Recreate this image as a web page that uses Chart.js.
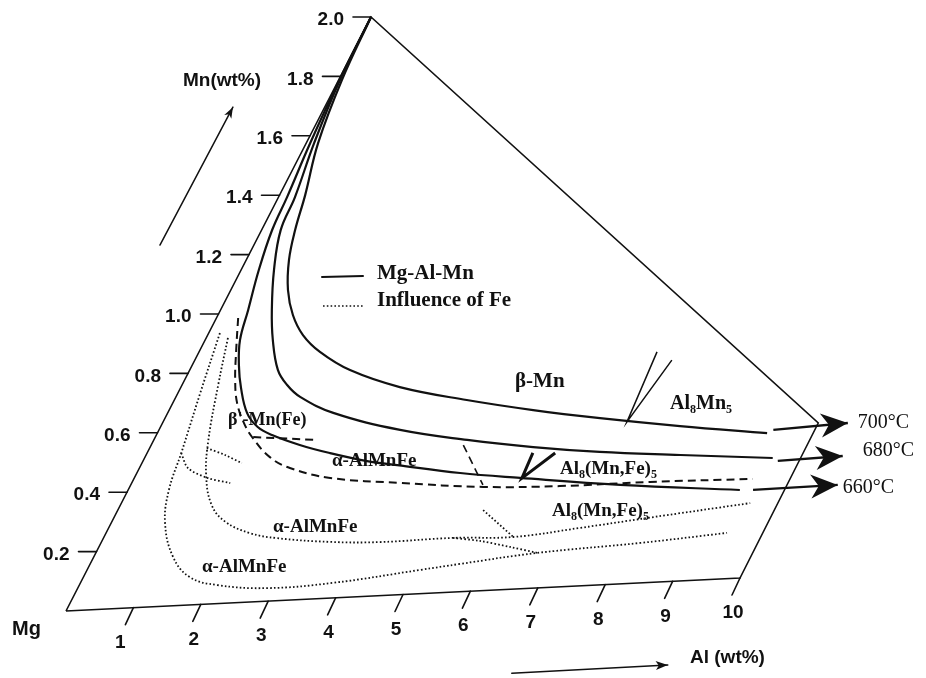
<!DOCTYPE html>
<html>
<head>
<meta charset="utf-8">
<script src="https://cdn.jsdelivr.net/npm/chart.js@4.4.1/dist/chart.umd.min.js"></script>
<style>
  html, body { margin: 0; padding: 0; background: #fff; }
  #wrap { width: 926px; height: 678px; position: relative; }
</style>
</head>
<body>
<div id="wrap"><canvas id="diagram"></canvas></div>
<script>
// axis ticks (Al wt% along the bottom edge, Mn wt% up the left edge)
const alTicks = [1, 2, 3, 4, 5, 6, 7, 8, 9, 10];
const mnTicks = [0.2, 0.4, 0.6, 0.8, 1.0, 1.2, 1.4, 1.6, 1.8, 2.0];
const mnTickLabels = ["0.2", "0.4", "0.6", "0.8", "1.0", "1.2", "1.4", "1.6", "1.8", "2.0"];

// outline of the section
const frameAl = [0, 0, 9.98, 10, 0];
const frameMn = [0, 2, 0.522, 0, 0];

// Mg-Al-Mn liquidus lines
const al700 = [0, 0.05, 0.18, 0.39, 0.51, 0.65, 0.87, 1.14, 1.45, 1.84, 2.44, 3.33, 4.45, 5.54, 6.62, 7.90, 9.28];
const mn700 = [2.0, 1.787, 1.574, 1.396, 1.277, 1.175, 1.071, 0.984, 0.913, 0.852, 0.784, 0.717, 0.661, 0.615, 0.576, 0.535, 0.496];
const al680 = [0, 0.02, 0.12, 0.25, 0.29, 0.50, 0.78, 1.03, 1.34, 1.60, 1.89, 2.52, 3.67, 4.77, 5.83, 6.88, 8.13, 9.56];
const mn680 = [2.0, 1.787, 1.574, 1.391, 1.280, 1.143, 1.005, 0.901, 0.797, 0.743, 0.700, 0.639, 0.569, 0.523, 0.487, 0.459, 0.435, 0.409];
const al660 = [0, 0.01, 0.06, 0.13, 0.16, 0.27, 0.42, 0.53, 0.71, 0.92, 1.21, 1.48, 1.76, 2.26, 2.78, 3.41, 3.90, 4.92, 5.87, 7.45, 9.31];
const mn660 = [2.0, 1.787, 1.575, 1.393, 1.281, 1.145, 1.009, 0.907, 0.820, 0.741, 0.653, 0.603, 0.573, 0.534, 0.501, 0.467, 0.448, 0.410, 0.383, 0.342, 0.304];

// influence of Fe: dashed boundary
const alFeDash = [0.33, 0.55, 0.77, 0.98, 1.24, 1.49, 1.90, 2.29, 2.98, 4.08, 5.38, 6.54, 7.88, 9.42];
const mnFeDash = [0.983, 0.873, 0.769, 0.689, 0.619, 0.566, 0.497, 0.456, 0.415, 0.386, 0.358, 0.348, 0.347, 0.340];
const alFeDashShort = [1.49, 2.50];
const mnFeDashShort = [0.569, 0.548];
const alFeDashLink = [4.75, 5.36];
const mnFeDashLink = [0.506, 0.365];

// influence of Fe: dotted boundaries
const alDot1 = [0.17, 0.34, 0.52, 0.62, 0.82, 1.21, 1.62, 2.10, 2.88, 3.84, 5.07, 5.63, 6.72, 8.21, 9.45];
const mnDot1 = [0.934, 0.730, 0.526, 0.401, 0.287, 0.168, 0.096, 0.064, 0.045, 0.052, 0.082, 0.096, 0.121, 0.138, 0.158];
const alDot2 = [0.33, 0.55, 0.83, 1.07, 1.39, 1.73, 2.19, 2.64, 3.48, 4.24, 5.32, 6.23, 7.17, 8.12, 9.57];
const mnDot2 = [0.916, 0.755, 0.567, 0.446, 0.341, 0.281, 0.238, 0.216, 0.194, 0.185, 0.187, 0.180, 0.200, 0.223, 0.257];
const alDot3 = [5.32, 5.75, 6.26, 6.72];
const mnDot3 = [0.187, 0.172, 0.146, 0.121];
const alDot4 = [5.56, 6.23];
const mnDot4 = [0.278, 0.180];
const alDot5 = [0.52, 0.74, 1.11, 1.50];
const mnDot5 = [0.526, 0.473, 0.436, 0.414];
const alDot6 = [0.87, 1.20, 1.52];
const mnDot6 = [0.539, 0.512, 0.481];

// phase-field markers
const alMark660 = [5.87, 5.90, 6.21];
const mnMark660 = [0.467, 0.382, 0.463];
const alMark700 = [6.97, 7.06, 7.26];
const mnMark700 = [0.795, 0.558, 0.764];

// isotherm arrows
const arrowLabels = ["700\u00b0C", "680\u00b0C", "660\u00b0C"];
const arrowAl = [[9.35, 10.43], [9.66, 10.61], [9.51, 10.76]];
const arrowMn = [[0.506, 0.517], [0.398, 0.404], [0.302, 0.305]];

// oblique drawing of the composition plane
function proj(al, mn) {
  return { x: 66 + 67.4 * al + 152.5 * mn, y: 611 - 3.3 * al - 297 * mn };
}
function pts(al, mn) {
  return al.map((a, i) => proj(a, mn[i]));
}

const SOLID = [];
const DASH = [8, 5];
const DOT = [1.6, 2.2];

function curve(al, mn, dash, width, tension) {
  return {
    data: pts(al, mn),
    showLine: true,
    pointRadius: 0,
    borderColor: "#111",
    borderWidth: width,
    borderDash: dash,
    tension: tension,
    fill: false,
  };
}

const datasets = [
  curve(frameAl, frameMn, SOLID, 1.6, 0),
  curve(al700, mn700, SOLID, 2.2, 0.4),
  curve(al680, mn680, SOLID, 2.2, 0.4),
  curve(al660, mn660, SOLID, 2.2, 0.4),
  curve(alFeDash, mnFeDash, DASH, 2, 0.4),
  curve(alFeDashShort, mnFeDashShort, DASH, 2, 0),
  curve(alFeDashLink, mnFeDashLink, DASH, 1.6, 0),
  curve(alDot1, mnDot1, DOT, 1.8, 0.4),
  curve(alDot2, mnDot2, DOT, 1.8, 0.4),
  curve(alDot3, mnDot3, DOT, 1.8, 0.3),
  curve(alDot4, mnDot4, DOT, 1.8, 0),
  curve(alDot5, mnDot5, DOT, 1.8, 0.3),
  curve(alDot6, mnDot6, DOT, 1.8, 0.3),
  curve(alMark660, mnMark660, SOLID, 3, 0),
  curve(alMark700, mnMark700, SOLID, 1.5, 0),
];
arrowAl.forEach((a, i) => datasets.push(curve(a, arrowMn[i], SOLID, 2.4, 0)));

function head(ctx, x1, y1, x2, y2, len, half, back) {
  const a = Math.atan2(y2 - y1, x2 - x1);
  const c = Math.cos(a), s = Math.sin(a);
  const bx = x2 - len * c, by = y2 - len * s;
  ctx.beginPath();
  ctx.moveTo(x2, y2);
  ctx.lineTo(bx - half * s, by + half * c);
  ctx.lineTo(x2 - (len - back) * c, y2 - (len - back) * s);
  ctx.lineTo(bx + half * s, by - half * c);
  ctx.closePath();
  ctx.fill();
}

function rich(ctx, parts, x, y, size, family, weight) {
  let cx = x;
  parts.forEach(([t, sub]) => {
    const fs = sub ? Math.round(size * 0.62) : size;
    ctx.font = weight + " " + fs + "px " + family;
    ctx.fillText(t, cx, y + (sub ? size * 0.32 : 0));
    cx += ctx.measureText(t).width;
  });
}

const SERIF = "'Liberation Serif', 'DejaVu Serif', serif";
const SANS = "'Liberation Sans', Arial, sans-serif";

const decorations = {
  id: "decorations",
  afterDatasetsDraw(chart) {
    const ctx = chart.ctx;
    const X = (v) => chart.scales.x.getPixelForValue(v);
    const Y = (v) => chart.scales.y.getPixelForValue(v);
    const P = (al, mn) => { const p = proj(al, mn); return [X(p.x), Y(p.y)]; };
    ctx.save();
    ctx.strokeStyle = "#111";
    ctx.fillStyle = "#111";
    ctx.lineCap = "round";

    // Mn ticks and labels
    ctx.lineWidth = 1.6;
    ctx.font = "bold 19px " + SANS;
    ctx.textAlign = "right";
    ctx.textBaseline = "middle";
    mnTicks.forEach((m, i) => {
      const [x, y] = P(0, m);
      ctx.beginPath(); ctx.moveTo(x - 18, y); ctx.lineTo(x, y); ctx.stroke();
      ctx.fillText(mnTickLabels[i], x - 27, y + 3);
    });

    // Al ticks and labels
    ctx.textAlign = "center";
    alTicks.forEach((a) => {
      const [x, y] = P(a, 0);
      ctx.beginPath(); ctx.moveTo(x, y); ctx.lineTo(x - 8, y + 17); ctx.stroke();
      ctx.fillText(String(a), x - (a === 1 ? 13 : 7), y + 35);
    });

    // axis titles and direction arrows
    ctx.textAlign = "left";
    ctx.font = "bold 19px " + SANS;
    ctx.fillText("Mn(wt%)", X(183), Y(81));
    ctx.fillText("Al (wt%)", X(690), Y(658));
    ctx.font = "bold 20px " + SANS;
    ctx.fillText("Mg", X(12), Y(629));
    ctx.lineWidth = 1.5;
    const mnA = P(-1.43, 1.248), mnB = P(-1.397, 1.712);
    ctx.beginPath(); ctx.moveTo(mnA[0], mnA[1]); ctx.lineTo(mnB[0], mnB[1]); ctx.stroke();
    head(ctx, mnA[0], mnA[1], mnB[0], mnB[1], 11, 4, 3);
    const alA = P(7.27, -0.29), alB = P(9.58, -0.288);
    ctx.beginPath(); ctx.moveTo(alA[0], alA[1]); ctx.lineTo(alB[0], alB[1]); ctx.stroke();
    head(ctx, alA[0], alA[1], alB[0], alB[1], 12, 4.5, 3);

    // isotherm arrow heads and labels
    const labelShift = [[10, 0], [20, -5], [5, 3]];
    ctx.textBaseline = "middle";
    arrowAl.forEach((a, i) => {
      const [x1, y1] = P(a[0], arrowMn[i][0]);
      const [x2, y2] = P(a[1], arrowMn[i][1]);
      head(ctx, x1, y1, x2, y2, 27, 12, 8);
      ctx.font = "20px " + SERIF;
      ctx.fillText(arrowLabels[i], x2 + labelShift[i][0], y2 + labelShift[i][1]);
    });

    // legend
    ctx.lineWidth = 2;
    ctx.beginPath(); ctx.moveTo(X(322), Y(277)); ctx.lineTo(X(363), Y(276)); ctx.stroke();
    ctx.lineCap = "butt";
    ctx.setLineDash(DOT);
    ctx.lineWidth = 1.6;
    ctx.beginPath(); ctx.moveTo(X(323), Y(306)); ctx.lineTo(X(363), Y(306)); ctx.stroke();
    ctx.setLineDash([]);
    rich(ctx, [["Mg-Al-Mn", 0]], X(377), Y(274), 21, SERIF, "bold");
    rich(ctx, [["Influence of Fe", 0]], X(377), Y(301), 21, SERIF, "bold");

    // phase fields
    rich(ctx, [["\u03b2-Mn", 0]], X(515), Y(382), 21, SERIF, "bold");
    rich(ctx, [["Al", 0], ["8", 1], ["Mn", 0], ["5", 1]], X(670), Y(404), 20, SERIF, "bold");
    rich(ctx, [["\u03b2'-Mn(Fe)", 0]], X(228), Y(420), 18, SERIF, "bold");
    rich(ctx, [["\u03b1-AlMnFe", 0]], X(332), Y(461), 19, SERIF, "bold");
    rich(ctx, [["\u03b1-AlMnFe", 0]], X(273), Y(527), 19, SERIF, "bold");
    rich(ctx, [["\u03b1-AlMnFe", 0]], X(202), Y(567), 19, SERIF, "bold");
    rich(ctx, [["Al", 0], ["8", 1], ["(Mn,Fe)", 0], ["5", 1]], X(560), Y(469), 19, SERIF, "bold");
    rich(ctx, [["Al", 0], ["8", 1], ["(Mn,Fe)", 0], ["5", 1]], X(552), Y(511), 19, SERIF, "bold");
    ctx.restore();
  },
};

new Chart(document.getElementById("diagram"), {
  type: "scatter",
  data: { datasets },
  options: {
    responsive: true,
    maintainAspectRatio: false,
    animation: false,
    events: [],
    layout: { padding: 0 },
    plugins: { legend: { display: false }, tooltip: { enabled: false } },
    scales: {
      x: { type: "linear", min: 0, max: 926, display: false },
      y: { type: "linear", min: 0, max: 678, reverse: true, display: false },
    },
  },
  plugins: [decorations],
});
</script>
</body>
</html>
